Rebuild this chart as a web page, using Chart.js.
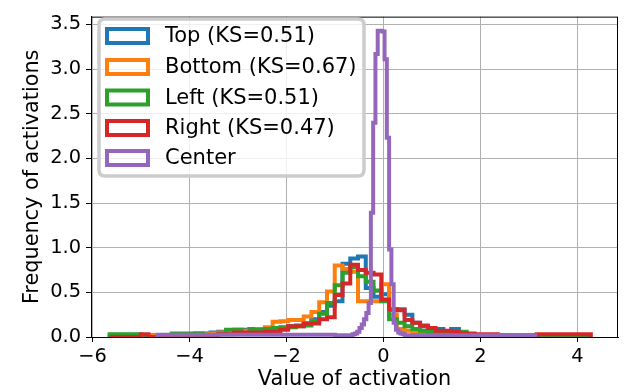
<!DOCTYPE html>
<html>
<head>
<meta charset="utf-8">
<script src="https://cdn.jsdelivr.net/npm/chart.js@4.4.0/dist/chart.umd.min.js"></script>
<style>
  html, body { margin: 0; padding: 0; background: #ffffff; }
  #wrap { width: 640px; height: 392px; }
</style>
</head>
<body>
<div id="wrap"><canvas id="c" width="640" height="392"></canvas></div>
<script>
// ---- data ----
const seriesNames = ["Top (KS=0.51)", "Bottom (KS=0.67)", "Left (KS=0.51)", "Right (KS=0.47)", "Center"];
const xTickValues = [-6, -4, -2, 0, 2, 4];
const yTickValues = [0, 0.5, 1.0, 1.5, 2.0, 2.5, 3.0, 3.5];

// shared bin edges of the four edge-region histograms
const binEdges = [-5.645,-5.485,-5.325,-5.165,-5.005,-4.845,-4.685,-4.525,-4.365,-4.205,
  -4.045,-3.885,-3.725,-3.565,-3.405,-3.245,-3.085,-2.925,-2.765,-2.605,
  -2.445,-2.285,-2.125,-1.965,-1.805,-1.645,-1.485,-1.325,-1.165,-1.005,
  -0.845,-0.685,-0.525,-0.365,-0.205,-0.045,0.115,0.275,0.435,0.595,
  0.755,0.915,1.075,1.235,1.395,1.555,1.715,1.875,2.035,2.195,
  2.355,2.515,2.675,2.835,2.995,3.155,3.315,3.475,3.635,3.795,
  3.955,4.115,4.275];

const topValues = [0.02,0,0,0,0,0,0.02,0,0.02,0,
  0.03,0.02,0.04,0.04,0.05,0.06,0.07,0.08,0.08,0.09,
  0.09,0.09,0.10,0.11,0.12,0.13,0.15,0.20,0.28,0.35,
  0.40,0.82,0.88,0.90,0.55,0.45,0.48,0.30,0.31,0.25,
  0.16,0.12,0.09,0.09,0.06,0.09,0.04,0.03,0.02,0.02,
  0.02,0.01,0.01,0.01,0,0,0,0,0,0,
  0,0];

const bottomValues = [0,0.02,0.02,0,0,0,0.02,0,0.02,0.02,
  0.02,0.02,0.03,0.03,0.04,0.05,0.06,0.06,0.07,0.08,
  0.09,0.11,0.17,0.175,0.19,0.19,0.23,0.28,0.39,0.51,
  0.80,0.76,0.73,0.40,0.40,0.40,0.59,0.25,0.09,0.07,
  0.05,0.05,0.04,0.03,0.03,0.02,0.02,0.02,0.01,0.01,
  0,0,0,0,0,0,0,0,0,0,
  0,0];

const leftValues = [0,0.03,0.03,0.03,0.03,0,0,0,0,0.04,
  0.04,0.04,0.04,0.02,0.02,0.04,0.08,0.08,0.04,0.08,
  0.08,0.09,0.10,0.10,0.11,0.12,0.13,0.18,0.26,0.38,
  0.58,0.72,0.78,0.68,0.62,0.52,0.40,0.20,0.16,0.12,
  0.09,0.07,0.06,0.05,0.04,0.04,0.06,0.03,0.02,0.02,
  0.01,0.01,0,0,0,0,0,0,0,0,
  0,0];

const rightValues = [0,0,0,0,0,0.03,0,0,0,0,
  0,0,0,0,0.02,0.03,0.03,0.05,0.05,0.05,
  0.05,0.06,0.06,0.08,0.12,0.12,0.15,0.15,0.20,0.22,
  0.47,0.60,0.81,0.75,0.72,0.70,0.42,0.31,0.30,0.19,
  0.16,0.13,0.10,0.07,0.07,0.06,0.04,0.04,0.03,0.03,
  0.03,0.02,0.02,0.02,0.02,0.02,0.03,0.03,0.03,0.03,
  0.03,0.03];

// center histogram (finer bins; sparse tails merged)
const centerEdges = [-4.66,-1.0,-0.636,-0.589,-0.542,-0.495,-0.448,-0.401,-0.354,-0.307,
  -0.260,-0.213,-0.166,-0.119,-0.072,-0.025,0.022,0.069,0.116,0.163,
  0.210,0.257,0.304,0.351,0.398,0.445,1.0,3.13];
const centerValues = [0.02,0.025,0.02,0.03,0.04,0.06,0.10,0.14,0.20,0.27,
  0.38,1.39,2.40,3.17,3.43,3.43,3.42,3.11,2.23,0.98,
  0.59,0.16,0.08,0.05,0.04,0.03,0.02];

const colors = ["#1f77b4", "#ff7f0e", "#2ca02c", "#d62728", "#9467bd"];

// ---- helpers ----
function stepPoints(edges, values) {
  const pts = [{x: edges[0], y: 0}];
  for (let i = 0; i < values.length; i++) pts.push({x: edges[i], y: values[i]});
  const n = values.length;
  pts.push({x: edges[n], y: values[n - 1]});
  pts.push({x: edges[n], y: 0});
  return pts;
}

const LW = 4;
const FONT = "'DejaVu Sans', 'Liberation Sans', sans-serif";
const allSeries = [
  [binEdges, topValues], [binEdges, bottomValues], [binEdges, leftValues],
  [binEdges, rightValues], [centerEdges, centerValues]
];
const datasets = allSeries.map((s, i) => ({
  label: seriesNames[i],
  data: stepPoints(s[0], s[1]),
  borderColor: colors[i],
  backgroundColor: colors[i],
  borderWidth: LW,
  borderJoinStyle: 'miter',
  borderCapStyle: 'butt',
  stepped: 'after',
  pointRadius: 0,
  fill: false,
  clip: 0,
  order: 5 - i
}));

const minus = v => (v < 0 ? '\u2212' + Math.abs(v) : String(v));

const framePlugin = {
  id: 'frame',
  afterDatasetsDraw(chart) {
    const {ctx, chartArea: a} = chart;
    ctx.save();
    ctx.strokeStyle = '#000';
    ctx.lineWidth = 1;
    ctx.strokeRect(a.left + 0.5, a.top + 0.5, a.right - a.left - 1, a.bottom - a.top);
    ctx.restore();
  }
};

const legendPlugin = {
  id: 'mplLegend',
  afterDraw(chart) {
    const ctx = chart.ctx;
    const bx = 99, by = 19, bw = 265, bh = 157, r = 6;
    ctx.save();
    ctx.beginPath();
    ctx.moveTo(bx + r, by);
    ctx.lineTo(bx + bw - r, by);
    ctx.quadraticCurveTo(bx + bw, by, bx + bw, by + r);
    ctx.lineTo(bx + bw, by + bh - r);
    ctx.quadraticCurveTo(bx + bw, by + bh, bx + bw - r, by + bh);
    ctx.lineTo(bx + r, by + bh);
    ctx.quadraticCurveTo(bx, by + bh, bx, by + bh - r);
    ctx.lineTo(bx, by + r);
    ctx.quadraticCurveTo(bx, by, bx + r, by);
    ctx.closePath();
    ctx.fillStyle = 'rgba(255,255,255,0.8)';
    ctx.fill();
    ctx.strokeStyle = '#cccccc';
    ctx.lineWidth = 3.5;
    ctx.stroke();
    const rowY = [36, 67, 97.5, 128, 158];
    ctx.font = '21px ' + FONT;
    ctx.textBaseline = 'middle';
    ctx.textAlign = 'left';
    for (let i = 0; i < seriesNames.length; i++) {
      const y = rowY[i];
      ctx.strokeStyle = colors[i];
      ctx.lineWidth = LW;
      ctx.strokeRect(107, y - 7, 41, 14);
      ctx.fillStyle = '#000';
      ctx.fillText(seriesNames[i], 165, y + 1);
    }
    ctx.restore();
  }
};

new Chart(document.getElementById('c'), {
  type: 'line',
  data: { datasets },
  plugins: [framePlugin, legendPlugin],
  options: {
    responsive: false,
    animation: false,
    devicePixelRatio: 1,
    layout: { padding: { left: 0, right: 22, top: 9, bottom: 0 } },
    plugins: { legend: { display: false }, tooltip: { enabled: false } },
    scales: {
      x: {
        type: 'linear',
        min: -6.03,
        max: 4.835,
        afterBuildTicks: s => { s.ticks = xTickValues.map(v => ({value: v})); },
        afterFit: s => { s.height = 55; },
        ticks: {
          color: '#000',
          font: { family: FONT, size: 19.4 },
          padding: 3,
          maxRotation: 0,
          autoSkip: false,
          callback: v => minus(v)
        },
        grid: { color: '#b0b0b0', lineWidth: 1, drawTicks: true, tickLength: 5, tickColor: '#000' },
        border: { display: true, color: '#000', width: 1 },
        title: { display: true, text: 'Value of activation', color: '#000',
                 font: { family: FONT, size: 20.8 }, padding: { top: 0, bottom: 0 } }
      },
      y: {
        type: 'linear',
        min: 0,
        max: 3.587,
        afterBuildTicks: s => { s.ticks = yTickValues.map(v => ({value: v})); },
        afterFit: s => { s.width = 91; },
        ticks: {
          color: '#000',
          font: { family: FONT, size: 19.4 },
          padding: 5,
          autoSkip: false,
          callback: v => v.toFixed(1)
        },
        grid: { color: '#b0b0b0', lineWidth: 1, drawTicks: true, tickLength: 5, tickColor: '#000' },
        border: { display: true, color: '#000', width: 1 },
        title: { display: true, text: 'Frequency of activations', color: '#000',
                 font: { family: FONT, size: 20.8 }, padding: { top: 20, bottom: 0 } }
      }
    }
  }
});
</script>
</body>
</html>
